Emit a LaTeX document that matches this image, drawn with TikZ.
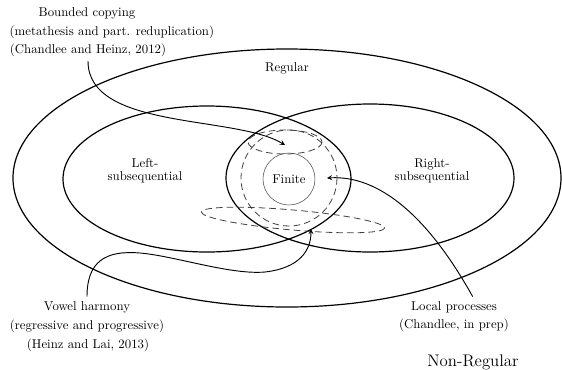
\documentclass[tikz,border=0pt]{standalone}
\begin{document}
\begin{tikzpicture}[>=stealth, x=0.75pt, y=-0.75pt,
    font=\fontsize{9.6}{11.5}\selectfont,
    cls/.style={line width=0.9pt},
    sub/.style={line width=0.6pt, black!75, dash pattern=on 5pt off 3pt},
    link/.style={->, line width=0.7pt},
    big/.style={font=\fontsize{12.6}{15}\selectfont}]
    \useasboundingbox (0,0) rectangle (562,369);
    % classes
    \draw[cls] (287,178) ellipse [x radius=274, y radius=129];
    \draw[cls] (207,179) ellipse [x radius=144, y radius=73];
    \draw[cls] (370,178) ellipse [x radius=144, y radius=74];
    \draw[line width=0.4pt, black!70] (289,179) circle [radius=26];
    \draw[sub] (289,178) circle [radius=48];
    \draw[sub] (285,142) ellipse [x radius=37, y radius=12];
    \draw[sub, rotate around={-5:(293,220)}] (293,220) ellipse [x radius=92, y radius=10];
    % class names
    \node (regular) at (287,68) {Regular};
    \node[align=center, font=\fontsize{9.6}{10}\selectfont] (leftseq) at (145,171) {Left-\\subsequential};
    \node[align=center, font=\fontsize{9.6}{10}\selectfont] (rightseq) at (432,171) {Right-\\subsequential};
    \node (finite) at (289,179) {Finite};
    \node[big] (nonreg) at (473,362) {Non-Regular};
    % processes
    \node (bc1) at (87,13) {Bounded copying};
    \node[anchor=west] (bc2) at (5,32) {(metathesis and part. reduplication)};
    \node (bc3) at (88,50) {(Chandlee and Heinz, 2012)};
    \node (vh1) at (87,307) {Vowel harmony};
    \node (vh2) at (87,326) {(regressive and progressive)};
    \node (vh3) at (88,345) {(Heinz and Lai, 2013)};
    \node (lp1) at (454,307) {Local processes};
    \node (lp2) at (454,325) {(Chandlee, in prep)};
    \coordinate (bctip) at (285,145);
    \coordinate (vhtip) at (311,229);
    \coordinate (lptip) at (327,178);
    \draw[link] (bc3.south) .. controls (88,130) and (235,115) .. (bctip);
    \draw[link] (vh1.north) .. controls (87,262) and (105,250) .. (140,253)
        .. controls (175,256) and (230,275) .. (265,272)
        .. controls (300,268) and (311,250) .. (vhtip);
    \draw[link] ([xshift=14pt]lp1.north) .. controls (429,218) and (380,175) .. (lptip);
\end{tikzpicture}
\end{document}
